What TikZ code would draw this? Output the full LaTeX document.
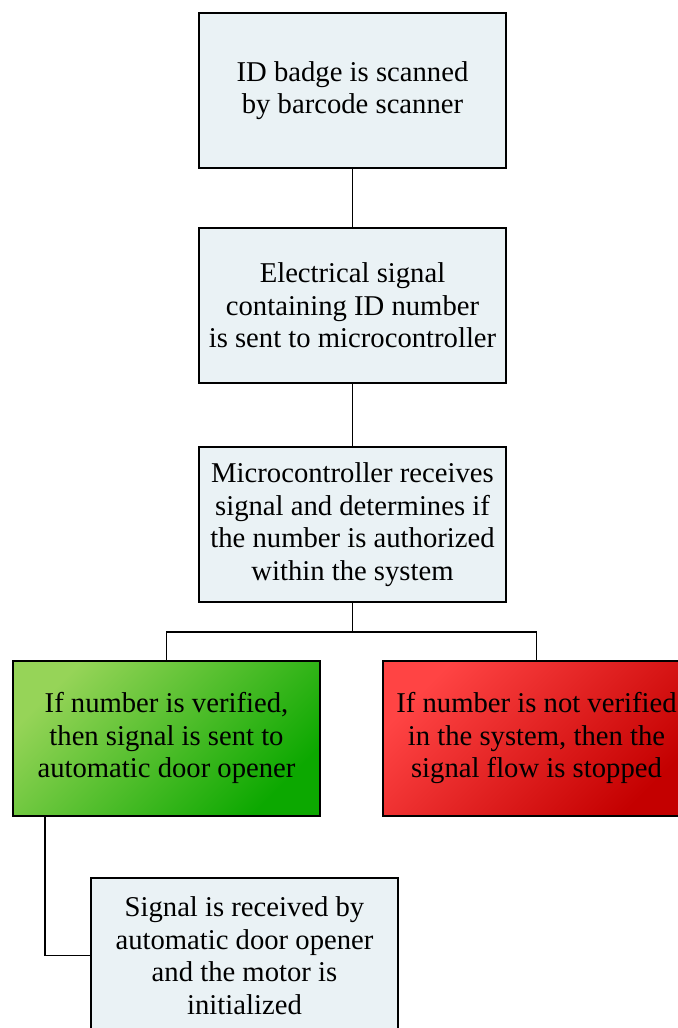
\documentclass[tikz,border=0pt]{standalone}
\usepackage{fontspec}
\setmainfont{Liberation Serif}
\definecolor{boxfill}{RGB}{234,242,245}
\definecolor{greenA}{RGB}{150,212,88}
\definecolor{greenB}{RGB}{12,168,0}
\definecolor{redA}{RGB}{255,68,68}
\definecolor{redB}{RGB}{196,0,0}
\tikzset{
  stepbox/.style={draw=black, line width=1.5pt, fill=boxfill, minimum width=230.25pt,
    minimum height=116.25pt, inner sep=0pt, align=center,
    font=\fontsize{21.5}{24.4}\selectfont},
  okbox/.style={stepbox, top color=greenA, bottom color=greenB, shading angle=45},
  failbox/.style={stepbox, top color=redA, bottom color=redB, shading angle=45},
  link/.style={draw=black, line width=1.4pt}
}
\begin{document}
\begin{tikzpicture}[x=0.75pt, y=-0.75pt]
  \clip (0,0) rectangle (678,1028);
  \node[stepbox] (scan) at (352.5,90.5) {ID badge is scanned\\by barcode scanner};
  \node[stepbox] (send) at (352.5,305.5) {Electrical signal\\containing ID number\\is sent to microcontroller};
  \node[stepbox] (check) at (352.5,524.5) {Microcontroller receives\\signal and determines if\\the number is authorized\\within the system};
  \node[okbox] (ok) at (166.5,738) {If number is verified,\\then signal is sent to\\automatic door opener};
  \node[failbox] (fail) at (536.5,738) {If number is not verified\\in the system, then the\\signal flow is stopped};
  \node[stepbox] (motor) at (244.5,955.5) {Signal is received by\\automatic door opener\\and the motor is\\initialized};
  \coordinate (split) at (352.5,632);
  \coordinate (drop) at ([xshift=24.75pt]ok.south west);
  \draw[link] (scan.south) -- (send.north);
  \draw[link] (send.south) -- (check.north);
  \draw[link] (check.south) -- (split);
  \draw[link] (ok.north) -- (ok.north |- split) -- (fail.north |- split) -- (fail.north);
  \draw[link] (drop) |- (motor.west);
\end{tikzpicture}
\end{document}
